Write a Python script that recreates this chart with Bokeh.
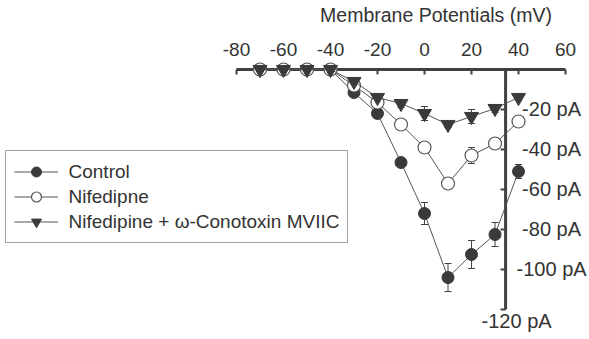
from bokeh.plotting import figure
from bokeh.models import Range1d, ColumnDataSource, Whisker, TeeHead, Legend, LegendItem
from bokeh.core.properties import value
from bokeh.embed import file_html
from bokeh.resources import INLINE

# ---- data ----
voltages = [-70, -60, -50, -40, -30, -20, -10, 0, 10, 20, 30, 40]
control = [0, 0, 0, 0, -11.5, -22, -46.5, -72, -104, -92.5, -82.5, -51]
control_err = [0, 0, 0, 0, 1, 1.5, 2, 5.5, 7, 7, 6, 3.5]
nifedipine = [0, 0, 0, 0, -8, -16.5, -27.5, -39, -57, -43, -37, -26]
nifedipine_err = [0, 0, 0, 0, 1, 1, 1, 1.5, 2, 4, 2.75, 1]
conotoxin = [0, 0, 0, 0, -6, -14, -17, -22, -27.5, -23.5, -19.5, -14]
conotoxin_err = [0, 0, 0, 0, 1, 1, 2, 3.5, 1.5, 3.5, 2, 1]

series_names = ["Control", "Nifedipne", "Nifedipine + \u03c9-Conotoxin MVIIC"]

x_ticks = [-80, -60, -40, -20, 0, 20, 40, 60]
x_tick_labels = ["-80", "-60", "-40", "-20", "0", "20", "40", "60"]
y_ticks = [-20, -40, -60, -80, -100, -120]
y_tick_labels = ["-20 pA", "-40 pA", "-60 pA", "-80 pA", "-100 pA", "-120 pA"]
y_axis_at = 34.5          # membrane potential (mV) where the current axis crosses
x_title = "Membrane Potentials (mV)"

# ---- figure ----
W, H = 589, 339
xr = Range1d(-180.43, 70.21)
yr = Range1d(-135.0, 34.5)
p = figure(width=W, height=H, x_range=xr, y_range=yr,
           x_axis_location=None, y_axis_location=None,
           toolbar_location=None, output_backend="svg", min_border=0)
p.outline_line_color = None
p.xgrid.visible = False
p.ygrid.visible = False

px_x = W / (xr.end - xr.start)   # pixels per mV
px_y = H / (yr.end - yr.start)   # pixels per pA

FONT = value("Liberation Sans")
TXT = "#333333"
AX = "#404040"

# axis lines
p.segment(x0=[x_ticks[0], y_axis_at], y0=[0, 0],
          x1=[x_ticks[-1], y_axis_at], y1=[0, y_ticks[-1]],
          line_color=AX, line_width=3)
# tick marks
tick_len = 5
p.segment(x0=x_ticks, y0=[0] * len(x_ticks), x1=x_ticks,
          y1=[-tick_len / px_y] * len(x_ticks), line_color=AX, line_width=2)
p.segment(x0=[y_axis_at - tick_len / px_x] * len(y_ticks), y0=y_ticks,
          x1=[y_axis_at] * len(y_ticks), y1=y_ticks, line_color=AX, line_width=2)

# tick labels
p.text(x=x_ticks, y=[0] * len(x_ticks), text=x_tick_labels,
       y_offset=-20, text_align="center", text_baseline="alphabetic",
       text_font=FONT, text_font_size="19px", text_color=TXT)
p.text(x=[y_axis_at] * (len(y_ticks) - 1), y=y_ticks[:-1], text=y_tick_labels[:-1],
       x_offset=46, y_offset=-1, text_align="center", text_baseline="alphabetic",
       text_font=FONT, text_font_size="20px", text_color=TXT)
p.text(x=[y_axis_at], y=[y_ticks[-1]], text=[y_tick_labels[-1]],
       x_offset=11, y_offset=11, text_align="center", text_baseline="alphabetic",
       text_font=FONT, text_font_size="20px", text_color=TXT)
# axis title
p.text(x=[(x_ticks[0] + x_ticks[-1]) / 2], y=[0], text=[x_title],
       x_offset=35, y_offset=-54.5, text_align="center", text_baseline="alphabetic",
       text_font=FONT, text_font_size="19.5px", text_color=TXT)

# ---- series ----
styles = [
    dict(marker="circle", size=12, fill_color="#3a3a3a", line_color="#3a3a3a", line_width=1),
    dict(marker="circle", size=13, fill_color="white", line_color="#555555", line_width=1.2),
    dict(marker="inverted_triangle", size=14, fill_color="#3a3a3a", line_color="#3a3a3a", line_width=1),
]
items = []
for name, vals, errs, st in zip(series_names, [control, nifedipine, conotoxin],
                                [control_err, nifedipine_err, conotoxin_err], styles):
    src = ColumnDataSource(dict(
        x=voltages, y=vals,
        upper=[v + e for v, e in zip(vals, errs)],
        lower=[v - e for v, e in zip(vals, errs)],
    ))
    ln = p.line("x", "y", source=src, line_color="#555555", line_width=1)
    wk = Whisker(base="x", upper="upper", lower="lower", source=src,
                 line_color="#444444", line_width=1,
                 upper_head=TeeHead(size=7, line_color="#444444", line_width=1),
                 lower_head=TeeHead(size=7, line_color="#444444", line_width=1))
    p.add_layout(wk)
    sc = p.scatter("x", "y", source=src, **st)
    items.append(LegendItem(label=name, renderers=[ln, sc]))

legend = Legend(items=items, location=(4.5, 96), padding=8, spacing=0,
                glyph_width=44, glyph_height=25, label_height=25, label_standoff=11,
                label_text_font="Liberation Sans", label_text_font_size="19px",
                label_text_color=TXT, border_line_color="#444444", border_line_width=1.5,
                background_fill_color="white", background_fill_alpha=1.0, margin=0)
p.add_layout(legend)

open("out.html", "w").write(file_html(p, INLINE))
